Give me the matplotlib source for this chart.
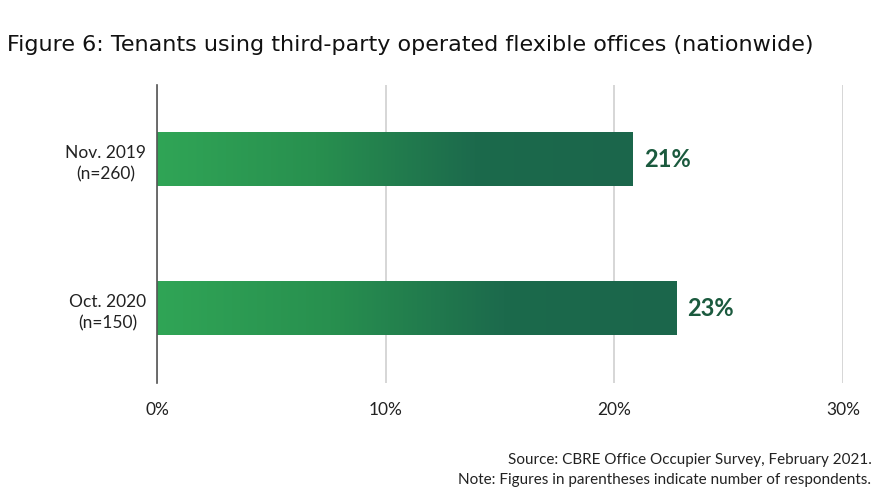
import numpy as np
import matplotlib.pyplot as plt
from matplotlib.colors import LinearSegmentedColormap

plt.rcParams['font.family'] = ['Lato', 'DejaVu Sans']

categories = ['Nov. 2019\n(n=260)', 'Oct. 2020\n(n=150)']
values = [20.8, 22.7]
labels = ['21%', '23%']
xticks = [0, 10, 20, 30]
xticklabels = ['0%', '10%', '20%', '30%']

fig = plt.figure(figsize=(8.92, 4.96), dpi=100)
ax = fig.add_axes([0.176, 0.228, 0.769, 0.601])

cmap = LinearSegmentedColormap.from_list('grn', ['#30a556', '#28904f', '#1c6a4c', '#1b664b'])
grad = np.linspace(0, 1, 256).reshape(1, -1)
half_h = 0.18
for i, v in enumerate(values):
    ax.imshow(grad, cmap=cmap, aspect='auto', extent=(0, v, i + half_h, i - half_h),
              zorder=2, interpolation='bicubic')
    ax.text(v + 0.5, i, labels[i], va='center', ha='left', fontsize=17,
            fontweight='bold', color='#1b5a3e')

ax.set_xlim(0, 30)
ax.set_ylim(1.5, -0.5)
ax.set_yticks(range(len(categories)))
ax.set_yticklabels(categories, fontsize=12.5, color='#222222', linespacing=1.45,
                   multialignment='center')
ax.set_xticks(xticks)
ax.set_xticklabels(xticklabels, fontsize=12.5, color='#222222')
ax.tick_params(length=0, pad=14)
ax.tick_params(axis='y', pad=8)
ax.grid(axis='x', color='#d0d0d0', linewidth=1.2, zorder=0)
for s in ['top', 'right', 'bottom']:
    ax.spines[s].set_visible(False)
ax.spines['left'].set_color('#555555')
ax.spines['left'].set_linewidth(1.2)
ax.spines['left'].set_zorder(3)

fig.text(0.008, 0.91, 'Figure 6: Tenants using third-party operated flexible offices (nationwide)',
         fontsize=16, family='DejaVu Sans', color='#111111', ha='left', va='center')
fig.text(0.977, 0.072, 'Source: CBRE Office Occupier Survey, February 2021.',
         fontsize=11, color='#222222', ha='right', va='center')
fig.text(0.977, 0.033, 'Note: Figures in parentheses indicate number of respondents.',
         fontsize=11, color='#222222', ha='right', va='center')

fig.savefig('out.png', dpi=100)
